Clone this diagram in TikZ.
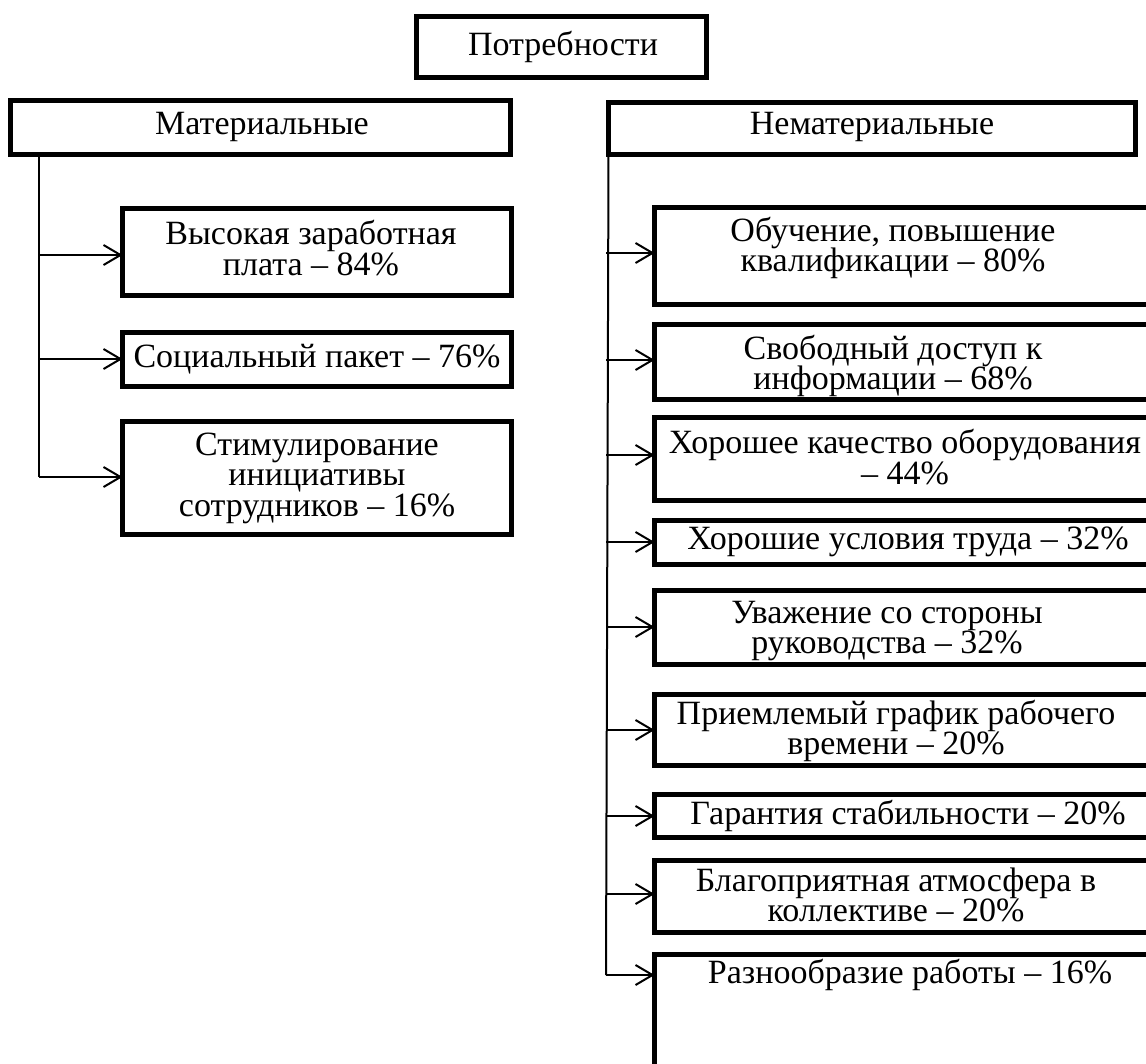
\documentclass[tikz,border=0pt]{standalone}
\usepackage{fontspec}
\setmainfont{Liberation Serif}
\usetikzlibrary{arrows.meta}
\newcommand\diagfont{\fontsize{34}{30.5}\selectfont\setlength{\lineskiplimit}{-100pt}\setlength{\lineskip}{0pt}\relax}
\begin{document}
\begin{tikzpicture}[x=1pt,y=-1pt,
  boxx/.style={draw=black, line width=5pt, rectangle, inner sep=0pt, outer sep=0pt, fill=none},
  txt/.style={inner sep=0pt, align=center, font=\diagfont},
  conn/.style={line width=2pt, draw=black},
  arr/.style={conn, -{Straight Barb[length=17pt,width=20pt,line width=2pt]}}]
\clip (0,0) rectangle (1146,1063);
\fill[white] (0,0) rectangle (1146,1063);
% top box
\node[boxx, minimum width=290pt, minimum height=61pt] (P) at (561.5,47) {};
\node[txt] (Pt) at (563,47) {Потребности};
% category boxes
\node[boxx, minimum width=500pt, minimum height=54pt] (M) at (260.5,127.5) {};
\node[txt] (Mt) at (262,127) {Материальные};
\node[boxx, minimum width=527pt, minimum height=52pt] (N) at (872,128.5) {};
\node[txt] (Nt) at (872,127) {Нематериальные};
% left boxes
\node[boxx, minimum width=389pt, minimum height=87pt] (L1) at (317,252) {};
\node[txt] (L1t) at (311,248) {Высокая заработная\\плата -- 84\%};
\node[boxx, minimum width=389pt, minimum height=54pt] (L2) at (317,359.5) {};
\node[txt] (L2t) at (317,359) {Социальный пакет -- 76\%};
\node[boxx, minimum width=389pt, minimum height=113pt] (L3) at (317,478) {};
\node[txt] (L3t) at (317,478) {Стимулирование\\инициативы\\сотрудников -- 16\%};
% right boxes
\node[boxx, minimum width=501pt, minimum height=97pt] (R1) at (905,256) {};
\node[txt] (R1t) at (893,248) {Обучение, повышение\\квалификации -- 80\%};
\node[boxx, minimum width=501pt, minimum height=75pt] (R2) at (905,362) {};
\node[txt] (R2t) at (893,366) {Свободный доступ к\\информации -- 68\%};
\node[boxx, minimum width=501pt, minimum height=83pt] (R3) at (905,459) {};
\node[txt] (R3t) at (905,457) {Хорошее качество оборудования\\-- 44\%};
\node[boxx, minimum width=501pt, minimum height=44pt] (R4) at (905,542.5) {};
\node[txt] (R4t) at (908,542) {Хорошие условия труда -- 32\%};
\node[boxx, minimum width=501pt, minimum height=74pt] (R5) at (905,627.5) {};
\node[txt] (R5t) at (887,631) {Уважение со стороны\\руководства -- 32\%};
\node[boxx, minimum width=501pt, minimum height=71pt] (R6) at (905,730) {};
\node[txt] (R6t) at (896,731) {Приемлемый график рабочего\\времени -- 20\%};
\node[boxx, minimum width=501pt, minimum height=43pt] (R7) at (905,816) {};
\node[txt] (R7t) at (908,816) {Гарантия стабильности -- 20\%};
\node[boxx, minimum width=501pt, minimum height=72pt] (R8) at (905,896.5) {};
\node[txt] (R8t) at (896,895) {Благоприятная атмосфера в\\коллективе -- 20\%};
\node[boxx, minimum width=501pt, minimum height=144pt] (R9) at (905,1026) {};
\node[txt] (R9t) at (910,975) {Разнообразие работы -- 16\%};
% left trunk
\coordinate (lt) at (39,157);
\coordinate (l1) at (39,255);
\coordinate (l2) at (39,359);
\coordinate (l3) at (39,477);
\draw[conn] (lt) -- (l3);
\draw[arr] (l1) -- (l1 -| L1.west);
\draw[arr] (l2) -- (l2 -| L2.west);
\draw[arr] (l3) -- (l3 -| L3.west);
% right trunk
\coordinate (rt) at (N.south west);
\coordinate (r1) at (606,253);
\coordinate (r2) at (606,360);
\coordinate (r3) at (606,455);
\coordinate (r4) at (606,542);
\coordinate (r5) at (606,627);
\coordinate (r6) at (606,730);
\coordinate (r7) at (606,816);
\coordinate (r8) at (606,894);
\coordinate (r9) at (606,975);
\draw[conn] (rt) -- (r9);
\draw[arr] (r1) -- (r1 -| R1.west);
\draw[arr] (r2) -- (r2 -| R2.west);
\draw[arr] (r3) -- (r3 -| R3.west);
\draw[arr] (r4) -- (r4 -| R4.west);
\draw[arr] (r5) -- (r5 -| R5.west);
\draw[arr] (r6) -- (r6 -| R6.west);
\draw[arr] (r7) -- (r7 -| R7.west);
\draw[arr] (r8) -- (r8 -| R8.west);
\draw[arr] (r9) -- (r9 -| R9.west);
\end{tikzpicture}
\end{document}
